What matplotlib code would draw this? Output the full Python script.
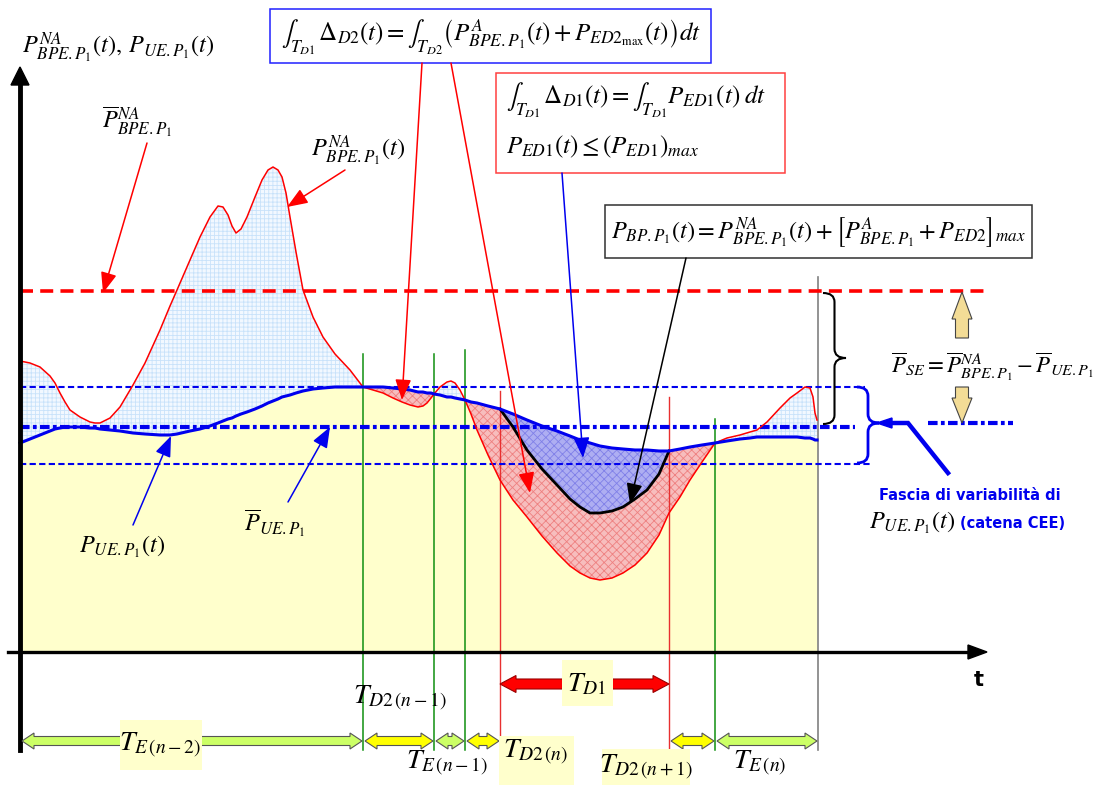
import numpy as np
import matplotlib.pyplot as plt
from matplotlib.patches import Rectangle, Polygon, PathPatch
from matplotlib.path import Path

plt.rcParams['mathtext.fontset'] = 'stix'
plt.rcParams['font.family'] = 'DejaVu Sans'
plt.rcParams['hatch.linewidth'] = 0.6

# time axis (arbitrary units) and the power profiles sampled on it
t = [0, 10, 20, 30, 35, 40, 45, 50, 60, 70, 75, 80, 90, 100, 113, 125, 140, 150, 157, 170,
     180, 190, 198, 203, 208, 212, 216, 221, 227, 235, 242, 248, 253, 258, 262, 266, 270, 276, 283, 293,
     303, 315, 330, 343, 353, 363, 373, 382, 390, 398, 403, 407, 411, 414, 420, 427, 431, 435, 440, 445,
     451, 457, 468, 480, 493, 507, 522, 537, 550, 560, 570, 580, 592, 603, 615, 627, 639, 649, 660, 670,
     682, 695, 707, 720, 730, 737, 747, 760, 770, 777, 785, 790, 793, 795, 797]

# P_BPE.P1^NA(t): non-adjustable production
p_bpe_na = [291, 289, 285, 276, 269, 259, 250, 242, 235, 230, 229, 229, 234, 245, 267, 289, 322, 346, 362, 392,
            415, 435, 446, 445, 437, 426, 419, 423, 435, 455, 472, 482, 485, 482, 475, 459, 435, 400, 362, 335,
            315, 298, 282, 265, 262, 259, 254, 250, 247, 245, 246, 249, 254, 258, 265, 270, 271, 269, 262, 252,
            238, 222, 197, 172, 152, 135, 116, 99, 86, 79, 74, 72, 74, 79, 87, 99, 117, 139, 155, 172,
            190, 209, 214, 217, 220, 222, 230, 244, 254, 259, 265, 264, 255, 239, 232]

# P_UE.P1(t): consumption
p_ue = [209, 213, 217, 221, 223, 224, 225, 225, 225, 224, 224, 223, 222, 221, 219, 218, 217, 217, 218, 221,
        223, 226, 229, 231, 233, 234, 236, 238, 240, 243, 246, 249, 251, 253, 255, 256, 257, 259, 261, 263,
        264, 265, 265, 265, 265, 265, 264, 263, 262, 260, 260, 259, 259, 258, 257, 255, 255, 254, 253, 252,
        250, 249, 246, 243, 238, 232, 226, 221, 216, 212, 209, 206, 204, 203, 202, 202, 201, 201, 203, 205,
        207, 209, 211, 213, 214, 215, 215, 215, 215, 215, 214, 214, 213, 212, 212]

# P_BP.P1(t) inside the T_D1 window
t_bp = [480, 493, 507, 522, 537, 550, 560, 570, 580, 592, 603, 615, 627, 639, 649]
p_bp = [243, 225, 202, 183, 167, 153, 145, 139, 139, 141, 145, 153, 162, 178, 201]

# mean levels and variability band
p_bpe_na_mean = 361
p_ue_mean = 225
p_ue_band = [188, 265]

# interval boundaries on the time axis
t_bounds = [0, 343, 414, 445, 480, 649, 695, 798]
span_kind = ['E', 'D2', 'E', 'D2', 'D1', 'D2', 'E']


def px(x, y):
    # layout helper: canvas pixel position -> (t, P)
    return (x - 20, 652 - y)


def block_arrow(t0, t1, p, hs, hh, hl):
    return [(t1, p), (t1 - hl, p + hh), (t1 - hl, p + hs),
            (t0 + hl, p + hs), (t0 + hl, p + hh), (t0, p), (t0 + hl, p - hh), (t0 + hl, p - hs),
            (t1 - hl, p - hs), (t1 - hl, p - hh)]


def brace(x0, x1, yt, yb, yc, d=9):
    xm = (x0 + x1) / 2
    verts = [(x0, yt), (xm, yt), (xm, yt + d), (xm, yc - d), (xm, yc), (x1, yc),
             (xm, yc), (xm, yc + d), (xm, yb - d), (xm, yb), (x0, yb)]
    codes = [Path.MOVETO, Path.CURVE3, Path.CURVE3, Path.LINETO, Path.CURVE3, Path.CURVE3,
             Path.CURVE3, Path.CURVE3, Path.LINETO, Path.CURVE3, Path.CURVE3]
    return Path([px(*v) for v in verts], codes)


fig = plt.figure(figsize=(11.04, 7.85), dpi=100)
ax = fig.add_axes([0, 0, 1, 1])
ax.set_xlim(-20, 1084)
ax.set_ylim(-133, 652)
ax.axis('off')

ta = np.array(t)
r = np.array(p_bpe_na)
u = np.array(p_ue)

# filled areas
ax.fill_between(ta, 0, u, color='#FFFFCC', lw=0, zorder=1)
ax.fill_between(ta, r, u, where=r >= u, interpolate=True, facecolor='#F2F8FF',
                edgecolor='#C8E2FA', hatch='++++', lw=0, zorder=2)
ax.fill_between(ta, r, u, where=r <= u, interpolate=True, facecolor='#F7BDBD',
                edgecolor='#EE8080', hatch='xxxx', lw=0, zorder=2)
u_bp = u[np.isin(ta, t_bp)]
ax.fill_between(t_bp, p_bp, u_bp, facecolor='#AEAEF2', edgecolor='#8080E8',
                hatch='xxxx', lw=0, zorder=3)

# vertical interval markers
for tb, top in zip([343, 414, 445, 695], [298, 298, 302, 233]):
    ax.plot([tb, tb], [-98, top], color='#109010', lw=1.1, zorder=4)
for tb, top, bot in zip([480, 649], [261, 255], [-83, -96]):
    ax.plot([tb, tb], [bot, top], color='#E83030', lw=1.0, zorder=4)
ax.plot([798, 798], [-98, 375], color='#808080', lw=1.2, zorder=4)

# reference levels
ax.plot([0, 968], [p_bpe_na_mean] * 2, color='red', lw=2.6, dashes=(3.6, 2.0), zorder=5)
ax.plot([0, 845], [p_ue_band[1]] * 2, color='#0000EE', lw=1.5, dashes=(3.0, 1.6), zorder=5)
ax.plot([0, 852], [p_ue_band[0]] * 2, color='#0000EE', lw=1.5, dashes=(3.0, 1.6), zorder=5)
ax.plot([0, 835], [p_ue_mean] * 2, color='#0000EE', lw=3, dashes=(2.3, 0.8, 0.9, 0.8), zorder=5)
ax.plot([908, 993], [229, 229], color='#0000EE', lw=3, dashes=(2.3, 0.8, 0.9, 0.8), zorder=5)

# profiles
ax.plot(t, p_bpe_na, color='red', lw=1.1, zorder=6)
ax.plot(t_bp, p_bp, color='black', lw=2, zorder=6)
ax.plot(t, p_ue, color='#0000EE', lw=2.2, zorder=7)

# axes
ax.plot([0, 0], [-98, 568], color='black', lw=3.5, zorder=8)
ax.add_patch(Polygon([(-9, 567), (9, 567), (0, 585)], color='black', zorder=8))
ax.plot([-12, 950], [0, 0], color='black', lw=2.4, zorder=8)
ax.add_patch(Polygon([(948, -7), (948, 7), (967, 0)], color='black', zorder=8))
ax.text(*px(979, 680), 't', fontsize=15, fontweight='bold', ha='center', va='center')

# interval arrows under the time axis
fills = {'E': '#CCFF66', 'D2': '#FFFF00'}
for k in range(len(span_kind)):
    if span_kind[k] == 'D1':
        continue
    ax.add_patch(Polygon(block_arrow(t_bounds[k] + 2, t_bounds[k + 1] - 1, -89, 4.5, 8, 12),
                         facecolor=fills[span_kind[k]], edgecolor='#555555', lw=0.8, zorder=8))
ax.add_patch(Polygon(block_arrow(t_bounds[4], t_bounds[5], -32, 5, 8.5, 16),
                     facecolor='red', edgecolor='#990000', lw=0.8, zorder=8))

# interval labels
bg = '#FFFFCC'
for (x0, y0, x1, y1) in [(120, 720, 202, 770), (499, 736, 574, 786), (602, 749, 690, 785), (562, 660, 613, 706)]:
    xa, ya = px(x0, y1)
    ax.add_patch(Rectangle((xa, ya), x1 - x0, y1 - y0, facecolor=bg, lw=0, zorder=9))
lab = dict(fontsize=20, ha='center', va='center', zorder=10)
ax.text(*px(160, 745), r'$T_{E\,(n-2)}$', **lab)
ax.text(*px(400, 698), r'$T_{D2\,(n-1)}$', **lab)
ax.text(*px(447, 763), r'$T_{E\,(n-1)}$', **lab)
ax.text(*px(536, 752), r'$T_{D2\,(n)}$', **lab)
ax.text(*px(646, 767), r'$T_{D2\,(n+1)}$', **lab)
ax.text(*px(587, 683), r'$T_{D1}$', **lab)
ax.text(*px(760, 763), r'$T_{E\,(n)}$', **lab)

# curve labels
ax.text(*px(22, 47), r'$P^{NA}_{BPE.P_1}(t),\,P_{UE.P_1}(t)$', fontsize=17.5, ha='left', va='center')
ax.text(*px(137, 122), r'$\overline{P}^{NA}_{BPE.P_1}$', fontsize=17.5, ha='center', va='center')
ax.text(*px(358, 150), r'$P^{NA}_{BPE.P_1}(t)$', fontsize=17.5, ha='center', va='center')
ax.text(*px(122, 547), r'$P_{UE.P_1}(t)$', fontsize=17.5, ha='center', va='center')
ax.text(*px(275, 523), r'$\overline{P}_{UE.P_1}$', fontsize=17.5, ha='center', va='center')

# formula boxes
def box(x0, y0, x1, y1, ec):
    xa, ya = px(x0, y1)
    ax.add_patch(Rectangle((xa, ya), x1 - x0, y1 - y0, facecolor='white', edgecolor=ec, lw=1.1, zorder=9))

box(270, 9, 711, 63, '#2020FF')
ax.text(*px(491, 37),
        r'$\int_{T_{D1}}\,\Delta_{D2}(t)=\int_{T_{D2}}\left(P^{A}_{BPE.P_1}(t)+P_{ED2_{\mathrm{max}}}(t)\right)dt$',
        fontsize=18, ha='center', va='center', zorder=10)
box(496, 73, 785, 173, '#FF4040')
ax.text(*px(506, 100), r'$\int_{T_{D1}}\,\Delta_{D1}(t)=\int_{T_{D1}}P_{ED1}(t)\;dt$',
        fontsize=18, ha='left', va='center', zorder=10)
ax.text(*px(506, 147), r'$P_{ED1}(t)\leq\left(P_{ED1}\right)_{max}$',
        fontsize=18, ha='left', va='center', zorder=10)
box(605, 205, 1032, 258, '#303030')
ax.text(*px(818, 232), r'$P_{BP.P_1}(t)=P^{NA}_{BPE.P_1}(t)+\left[P^{A}_{BPE.P_1}+P_{ED2}\right]_{max}$',
        fontsize=17.5, ha='center', va='center', zorder=10)

# pointer arrows
def pointer(start, tip, color):
    ax.annotate('', xy=px(*tip), xytext=px(*start),
                arrowprops=dict(arrowstyle='-|>,head_length=0.9,head_width=0.35', color=color,
                                lw=1.1, mutation_scale=14, shrinkA=0, shrinkB=0), zorder=11)

pointer((147, 143), (103, 293), 'red')
pointer((345, 170), (287, 207), 'red')
pointer((422, 63), (402, 400), 'red')
pointer((451, 63), (530, 493), 'red')
pointer((562, 173), (583, 458), '#0000EE')
pointer((686, 258), (630, 504), 'black')
pointer((133, 525), (171, 436), '#0000EE')
pointer((288, 502), (330, 427), '#0000EE')

# surplus bracket and band bracket on the right
ax.add_patch(PathPatch(brace(823, 846, 293, 424, 358), facecolor='none', edgecolor='black', lw=1.5, zorder=8))
ax.add_patch(PathPatch(brace(857, 879, 387, 463, 423), facecolor='none', edgecolor='#0000EE', lw=2, zorder=8))

gold = dict(facecolor='#F3DC96', edgecolor='#444444', lw=0.8, zorder=8)
ax.add_patch(Polygon([px(955.5, 338), px(955.5, 319), px(952, 319), px(962, 292),
                      px(972, 319), px(968.5, 319), px(968.5, 338)], **gold))
ax.add_patch(Polygon([px(955.5, 387), px(955.5, 398), px(952, 398), px(962, 423),
                      px(972, 398), px(968.5, 398), px(968.5, 387)], **gold))
ax.text(*px(992, 367), r'$\overline{P}_{SE}=\overline{P}^{NA}_{BPE.P_1}-\overline{P}_{UE.P_1}$',
        fontsize=16.5, ha='center', va='center', zorder=10)

ax.plot(*zip(px(948, 473), px(908, 423), px(888, 423)), color='#0000EE', lw=3.2, zorder=9,
        solid_joinstyle='miter')
ax.add_patch(Polygon([px(877, 423), px(892, 418), px(892, 428)], color='#0000EE', zorder=9))
ax.text(*px(970, 495), 'Fascia di variabilità di', fontsize=10.5, fontweight='bold',
        color='#0000EE', ha='center', va='center')
ax.text(*px(912, 523), r'$P_{UE.P_1}(t)$', fontsize=17.5, ha='center', va='center')
ax.text(*px(1013, 523), '(catena CEE)', fontsize=10.5, fontweight='bold',
        color='#0000EE', ha='center', va='center')

fig.savefig('out.png', dpi=100)
